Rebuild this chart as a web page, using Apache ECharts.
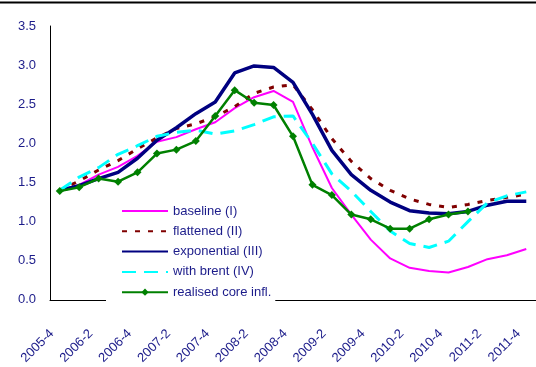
<!DOCTYPE html>
<html>
<head>
<meta charset="utf-8">
<script src="https://cdn.jsdelivr.net/npm/echarts@6.0.0/dist/echarts.min.js"></script>
<style>
  html, body { margin: 0; padding: 0; background: #fff; }
  #chart { width: 536px; height: 367px; }
</style>
</head>
<body>
<div id="chart"></div>
<script>
// Quarterly periods, 2005 Q4 to 2011 Q4
const quarters = [
  '2005-4',
  '2006-1', '2006-2', '2006-3', '2006-4',
  '2007-1', '2007-2', '2007-3', '2007-4',
  '2008-1', '2008-2', '2008-3', '2008-4',
  '2009-1', '2009-2', '2009-3', '2009-4',
  '2010-1', '2010-2', '2010-3', '2010-4',
  '2011-1', '2011-2', '2011-3', '2011-4'
];

// Projection scenarios (%)
const baseline = [1.40, 1.47, 1.60, 1.70, 1.84, 2.02, 2.08, 2.18, 2.27, 2.45, 2.59, 2.67, 2.53,
                  1.95, 1.43, 1.09, 0.77, 0.53, 0.41, 0.37, 0.35, 0.42, 0.52, 0.57, 0.65];
const flattened = [1.40, 1.52, 1.66, 1.78, 1.93, 2.07, 2.19, 2.25, 2.34, 2.47, 2.64, 2.72, 2.75,
                   2.43, 2.06, 1.77, 1.55, 1.40, 1.29, 1.22, 1.18, 1.22, 1.27, 1.31, 1.35];
const exponential = [1.40, 1.46, 1.55, 1.63, 1.81, 2.04, 2.20, 2.38, 2.53, 2.90, 2.99, 2.97, 2.78,
                     2.37, 1.91, 1.60, 1.40, 1.25, 1.14, 1.11, 1.10, 1.13, 1.21, 1.26, 1.26];
const withBrent = [1.40, 1.57, 1.69, 1.86, 1.97, 2.09, 2.14, 2.17, 2.12, 2.16, 2.24, 2.34, 2.35,
                   2.00, 1.61, 1.39, 1.13, 0.88, 0.72, 0.67, 0.75, 1.00, 1.24, 1.33, 1.38];
// Realised core inflation, available through 2011 Q1
const realisedCore = [1.39, 1.44, 1.55, 1.51, 1.63, 1.87, 1.92, 2.03, 2.35, 2.68, 2.52, 2.49, 2.09,
                      1.47, 1.34, 1.09, 1.03, 0.91, 0.91, 1.03, 1.09, 1.13];

const yTicks = { min: 0, max: 3.5, step: 0.5 };

const FONT = '"Liberation Sans", Arial, sans-serif';
const TEXT_BLUE = '#1c1c8a';

const chart = echarts.init(document.getElementById('chart'), null, { renderer: 'canvas' });

function lineSeries(name, data, color, width, type, extra) {
  return Object.assign({
    name: name,
    type: 'line',
    data: data,
    symbol: 'none',
    smooth: false,
    lineStyle: { color: color, width: width, type: type, cap: 'butt' },
    itemStyle: { color: color },
    emphasis: { disabled: true },
    z: 2
  }, extra || {});
}

// Legend entries: plain line keys, only the realised series keeps its marker
const hiddenMarker = { opacity: 0, borderWidth: 0 };

chart.setOption({
  animation: false,
  backgroundColor: '#fff',
  textStyle: { fontFamily: FONT },
  graphic: [
    { type: 'rect', left: 0, top: 1.5, shape: { width: 536, height: 2 }, style: { fill: '#000' }, z: 10 }
  ],
  grid: { left: 50, right: -1.5, top: 26, bottom: 63.5, containLabel: false },
  xAxis: {
    type: 'category',
    data: quarters,
    boundaryGap: true,
    axisLine: { show: true, lineStyle: { color: '#000', width: 1 } },
    axisTick: { show: false },
    axisLabel: {
      interval: 1,
      rotate: 45,
      margin: 24,
      padding: [0, 11, 0, 0],
      color: TEXT_BLUE,
      fontSize: 13,
      fontFamily: FONT
    },
    splitLine: { show: false }
  },
  yAxis: {
    type: 'value',
    min: yTicks.min,
    max: yTicks.max,
    interval: yTicks.step,
    axisLine: { show: true, lineStyle: { color: '#000', width: 1 } },
    axisTick: { show: false },
    splitLine: { show: false },
    axisLabel: {
      margin: 14,
      color: TEXT_BLUE,
      fontSize: 13,
      fontFamily: FONT,
      formatter: v => v.toFixed(1)
    }
  },
  legend: {
    orient: 'vertical',
    left: 106,
    top: 196,
    padding: [8, 4, 6, 15],
    itemGap: 6.3,
    itemWidth: 46,
    itemHeight: 9,
    backgroundColor: '#fff',
    selectedMode: false,
    textStyle: { color: TEXT_BLUE, fontSize: 13, lineHeight: 14, fontFamily: FONT },
    data: [
      { name: 'baseline (I)', itemStyle: hiddenMarker },
      { name: 'flattened (II)', itemStyle: hiddenMarker },
      { name: 'exponential (III)', itemStyle: hiddenMarker },
      { name: 'with brent (IV)', itemStyle: hiddenMarker },
      { name: 'realised core infl.' }
    ],
    z: 5
  },
  series: [
    lineSeries('baseline (I)', baseline, '#ff00ff', 2, 'solid'),
    lineSeries('flattened (II)', flattened, '#800000', 3, [5, 8]),
    lineSeries('exponential (III)', exponential, '#000080', 3.5, 'solid'),
    lineSeries('with brent (IV)', withBrent, '#00ffff', 3, [14, 8]),
    lineSeries('realised core infl.', realisedCore, '#008000', 2.5, 'solid', {
      symbol: 'diamond',
      symbolSize: 8,
      showSymbol: true
    })
  ]
});
</script>
</body>
</html>
